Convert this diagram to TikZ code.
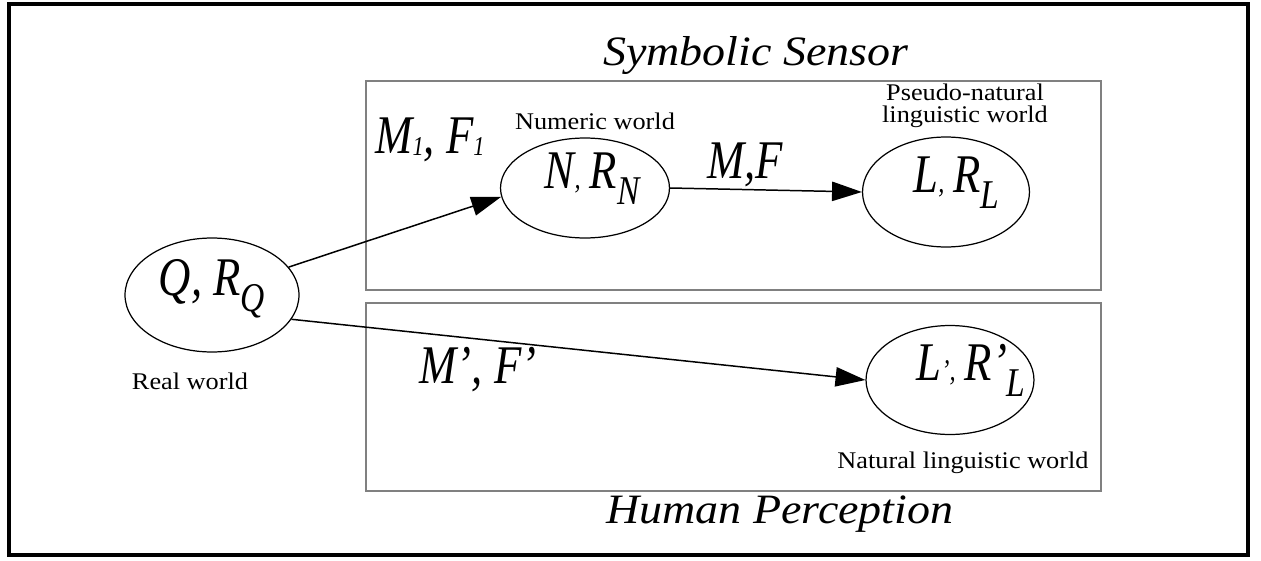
\documentclass[tikz,border=0pt]{standalone}
\usepackage{fontspec}
\setmainfont{Liberation Serif}[FakeStretch=1.1]
\newfontfamily\symfont{Liberation Serif}[FakeStretch=0.82]
\usetikzlibrary{arrows.meta, shapes.geometric}
\newcommand{\lsub}[1]{\raisebox{-0.3em}{\scalebox{0.75}{#1}}}
\newcommand{\tcomma}{\scalebox{0.55}{,}}
\newcommand{\shifted}[2]{\makebox[0pt][c]{\hspace*{#1}#2}}
\tikzset{
  world/.style={ellipse, draw, line width=0.7pt, inner sep=0pt,
    text height=0.3em, text depth=0.3em,
    font=\symfont\fontsize{31}{33}\selectfont\itshape},
  caption/.style={anchor=base, font=\fontsize{13.6}{12.5}\selectfont},
  title/.style={anchor=base, font=\fontsize{23.8}{26}\selectfont\itshape},
  maplabel/.style={anchor=base, font=\symfont\fontsize{31}{33}\selectfont\itshape},
  map/.style={line width=0.85pt, -{Triangle[length=17pt, width=11pt]}},
  panel/.style={draw=gray, line width=1.1pt}
}

\begin{document}
\begin{tikzpicture}[x=0.02cm, y=-0.02cm]
\useasboundingbox (0,0) rectangle (1261,561);
\draw[line width=2.3pt] (9,4) rectangle (1248,555);
\draw[panel] (366,81) rectangle (1101,290);
\draw[panel] (366,303) rectangle (1101,491);
% worlds
\node[world, minimum width=3.48cm, minimum height=2.28cm] (Q) at (212,295) {\shifted{0pt}{Q, R\lsub{Q}}};
\node[world, minimum width=3.38cm, minimum height=2cm] (N) at (585,188) {\shifted{8pt}{N\tcomma\,R\lsub{N}}};
\node[world, minimum width=3.34cm, minimum height=2.2cm] (L) at (946,192) {\shifted{12pt}{L\tcomma\,R\lsub{L}}};
\node[world, minimum width=3.36cm, minimum height=2.18cm] (L2) at (950,380) {\shifted{24pt}{L\scalebox{0.55}{’}\tcomma\,R’\lsub{L}}};
% maps
\draw[map] (Q.20) -- (N.186);
\draw[map] (N.east) -- (L.west);
\draw[map] (Q.-17) -- (L2.west);
\node[maplabel] (m1) at (430,153) {M\raisebox{-0.05em}{\scalebox{0.5}{1}}, F\raisebox{-0.05em}{\scalebox{0.5}{1}}};
\node[maplabel] (mf) at (745,178) {M,F};
\node[maplabel] (m2) at (478,383) {M’, F’};
% captions
\node[caption] (numeric) at (595,129) {Numeric world};
\node[caption, align=center] (pseudo) at (965,122) {Pseudo-natural\\linguistic world};
\node[caption] (real) at (190,389) {Real world};
\node[caption] (natural) at (963,468) {Natural linguistic world};
\node[title] (sensor) at (756,65) {Symbolic Sensor};
\node[title] (human) at (780,523) {Human Perception};
\end{tikzpicture}
\end{document}
